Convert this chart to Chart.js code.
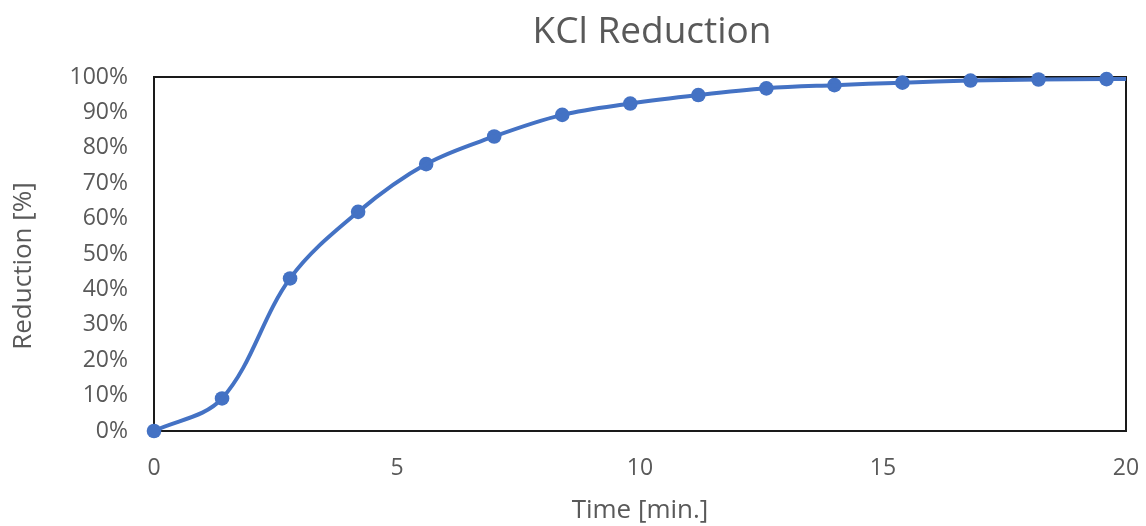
<!DOCTYPE html>
<html>
<head>
<meta charset="utf-8">
<script src="https://cdn.jsdelivr.net/npm/chart.js@4/dist/chart.umd.min.js"></script>
<style>
  html, body { margin: 0; padding: 0; background: #ffffff; }
  #wrap { width: 1146px; height: 526px; position: relative; }
</style>
</head>
<body>
<div id="wrap"><canvas id="c" width="1146" height="526"></canvas></div>
<script>
// ---- data ----
const chartTitle = "KCl Reduction";
const xAxisTitle = "Time [min.]";
const yAxisTitle = "Reduction [%]";
const timeMin = [0, 1.4, 2.8, 4.2, 5.6, 7.0, 8.4, 9.8, 11.2, 12.6, 14.0, 15.4, 16.8, 18.2, 19.6];
const reductionPct = [0, 9.2, 43.1, 61.9, 75.4, 83.2, 89.3, 92.5, 94.9, 96.8, 97.7, 98.4, 99.0, 99.3, 99.4];
// the curve continues past the last marker to the right frame (next sample lies beyond the axis)
const extraTime = [21.0];
const extraReduction = [99.6];
const xTicks = [0, 5, 10, 15, 20];
const yTicks = [0, 10, 20, 30, 40, 50, 60, 70, 80, 90, 100];

const FONT = "'Open Sans', 'Noto Sans', sans-serif";
const TEXT = "#595959";
const BLUE = "#4472C4";

const markerPts = timeMin.map((t, i) => ({ x: t, y: reductionPct[i] }));
const linePts = markerPts.concat(extraTime.map((t, i) => ({ x: t, y: extraReduction[i] })));

const framePlugin = {
  id: 'frame',
  beforeDatasetsDraw(chart) {
    const { ctx, chartArea: a } = chart;
    ctx.save();
    ctx.strokeStyle = '#1a1a1a';
    ctx.lineWidth = 2;
    ctx.strokeRect(a.left, a.top, a.right - a.left, a.bottom - a.top);
    ctx.restore();
  },
  afterDraw(chart) {
    const { ctx, chartArea: a } = chart;
    ctx.save();
    ctx.fillStyle = TEXT;
    ctx.font = "37px " + FONT;
    ctx.textAlign = 'center';
    ctx.textBaseline = 'alphabetic';
    ctx.fillText(chartTitle, 652, 43);
    // y-axis title, rotated
    ctx.font = "26px " + FONT;
    ctx.textBaseline = 'middle';
    ctx.translate(24, (a.top + a.bottom) / 2 + 12);
    ctx.rotate(-Math.PI / 2);
    ctx.fillText(yAxisTitle, 0, 0);
    ctx.restore();
  }
};

new Chart(document.getElementById('c'), {
  type: 'scatter',
  data: {
    datasets: [
      {
        label: 'curve',
        data: linePts,
        showLine: true,
        borderColor: BLUE,
        borderWidth: 4,
        pointRadius: 0,
        pointHoverRadius: 0,
        tension: 0.35,
        fill: false
      },
      {
        label: 'Reduction',
        data: markerPts,
        showLine: false,
        pointRadius: 7.3,
        pointBackgroundColor: BLUE,
        pointBorderColor: BLUE,
        pointBorderWidth: 0,
        clip: false
      }
    ]
  },
  options: {
    responsive: false,
    animation: false,
    devicePixelRatio: 1,
    layout: { padding: { top: 77, right: 20, left: 0, bottom: 0 } },
    plugins: {
      legend: { display: false },
      tooltip: { enabled: false },
      title: { display: false }
    },
    scales: {
      x: {
        type: 'linear',
        min: 0, max: 20,
        afterFit(s) { s.height = 95; s.paddingRight = 0; s.paddingLeft = 0; },
        afterBuildTicks(s) { s.ticks = xTicks.map(v => ({ value: v })); },
        grid: { display: false, drawTicks: false },
        border: { display: false },
        ticks: { color: TEXT, font: { family: FONT, size: 23 }, padding: 24, maxRotation: 0 },
        title: { display: true, text: xAxisTitle, color: TEXT, font: { family: FONT, size: 26 }, padding: { top: 0, bottom: 0 } }
      },
      y: {
        type: 'linear',
        min: 0, max: 100,
        afterFit(s) { s.width = 154; },
        afterBuildTicks(s) { s.ticks = yTicks.map(v => ({ value: v })); },
        grid: { display: false, drawTicks: false },
        border: { display: false },
        ticks: { color: TEXT, font: { family: FONT, size: 23 }, padding: 26, callback: v => v + '%' },
        title: { display: false }
      }
    }
  },
  plugins: [framePlugin]
});
</script>
</body>
</html>
